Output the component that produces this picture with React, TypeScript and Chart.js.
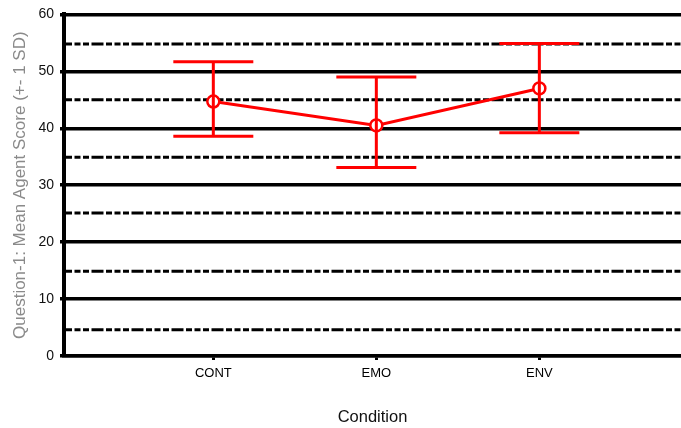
import React, { useEffect, useRef } from "react";
import { Chart, registerables } from "chart.js";

Chart.register(...registerables);

// ---- data ----
const categories = ["CONT", "EMO", "ENV"];
const categoryPositions = [1, 2, 3];
const means = [44.7, 40.5, 47.0];
const upper = [51.7, 49.0, 54.9];
const lower = [38.6, 33.1, 39.2];
const yTickStep = 10;
const dashedLevels = [4.6, 14.9, 25.1, 34.9, 45.0, 54.8];

const RED = "#ff0000";
const FONT = "'Liberation Sans', Arial, Helvetica, sans-serif";

const dashedLinesPlugin = {
  id: "dashedLines",
  beforeDatasetsDraw(chart: any) {
    const { ctx, chartArea, scales } = chart;
    ctx.save();
    ctx.strokeStyle = "#000";
    ctx.lineWidth = 3;
    ctx.setLineDash([6, 2.5, 6, 2.5, 6, 2.5, 12, 2.5]);
    dashedLevels.forEach((v) => {
      const y = scales.y.getPixelForValue(v);
      ctx.beginPath();
      ctx.moveTo(chartArea.left + 2, y);
      ctx.lineTo(chartArea.right, y);
      ctx.stroke();
    });
    ctx.restore();
  },
};

const errorBarsPlugin = {
  id: "errorBars",
  afterDatasetsDraw(chart: any) {
    const { ctx, scales } = chart;
    const capHalf = 40;
    ctx.save();
    ctx.strokeStyle = RED;
    ctx.lineWidth = 3;
    ctx.setLineDash([]);
    categoryPositions.forEach((pos, i) => {
      const x = scales.x.getPixelForValue(pos);
      const yt = scales.y.getPixelForValue(upper[i]);
      const yb = scales.y.getPixelForValue(lower[i]);
      ctx.beginPath();
      ctx.moveTo(x, yt);
      ctx.lineTo(x, yb);
      ctx.moveTo(x - capHalf, yt);
      ctx.lineTo(x + capHalf, yt);
      ctx.moveTo(x - capHalf, yb);
      ctx.lineTo(x + capHalf, yb);
      ctx.stroke();
    });
    ctx.restore();
  },
};

export default function App() {
  const canvasRef = useRef<HTMLCanvasElement | null>(null);

  useEffect(() => {
    document.body.style.margin = "0";
    const canvas = canvasRef.current;
    if (!canvas) return;
    const chart = new Chart(canvas, {
      type: "line",
      data: {
        datasets: [
          {
            data: categoryPositions.map((x, i) => ({ x, y: means[i] })),
            borderColor: RED,
            borderWidth: 3,
            pointRadius: 6,
            pointBorderWidth: 2.5,
            pointBackgroundColor: "#ffffff",
            pointBorderColor: RED,
            tension: 0,
          },
        ],
      },
      options: {
        responsive: false,
        animation: false,
        devicePixelRatio: 1,
        layout: { autoPadding: false, padding: { top: 10, right: 0, bottom: 0, left: 0 } },
        plugins: {
          legend: { display: false },
          tooltip: { enabled: false },
        },
        scales: {
          x: {
            type: "linear",
            min: 0.084,
            max: 3.869,
            afterBuildTicks: (s: any) => {
              s.ticks = categoryPositions.map((v) => ({ value: v }));
            },
            afterFit: (s: any) => {
              s.height = 72;
            },
            ticks: {
              callback: (_v: any, idx: number) => categories[idx] ?? "",
              font: { family: FONT, size: 13 },
              color: "#000",
              padding: 6,
              maxRotation: 0,
              autoSkip: false,
            },
            grid: {
              drawOnChartArea: false,
              drawTicks: true,
              tickLength: 4,
              lineWidth: 3,
              color: "#000",
            },
            border: { color: "#000", width: 3.5 },
            title: {
              display: true,
              text: "Condition",
              font: { family: FONT, size: 16.5 },
              color: "#111",
              padding: { top: 0, bottom: 1 },
            },
          },
          y: {
            min: 0,
            max: 60,
            afterFit: (s: any) => {
              s.width = 64;
            },
            ticks: {
              stepSize: yTickStep,
              font: { family: FONT, size: 14 },
              color: "#111",
              padding: 6,
            },
            grid: {
              color: "#000",
              lineWidth: 3.5,
              tickLength: 4,
            },
            border: { color: "#000", width: 4 },
            title: {
              display: true,
              text: "Question-1: Mean Agent Score (+- 1 SD)",
              font: { family: FONT, size: 17 },
              color: "#8a8a8a",
              padding: { top: 10, bottom: 0 },
            },
          },
        },
      },
      plugins: [dashedLinesPlugin, errorBarsPlugin],
    } as any);
    return () => chart.destroy();
  }, []);

  return (
    <div style={{ width: 681, height: 428 }}>
      <canvas ref={canvasRef} width={681} height={428} style={{ display: "block" }} />
    </div>
  );
}
